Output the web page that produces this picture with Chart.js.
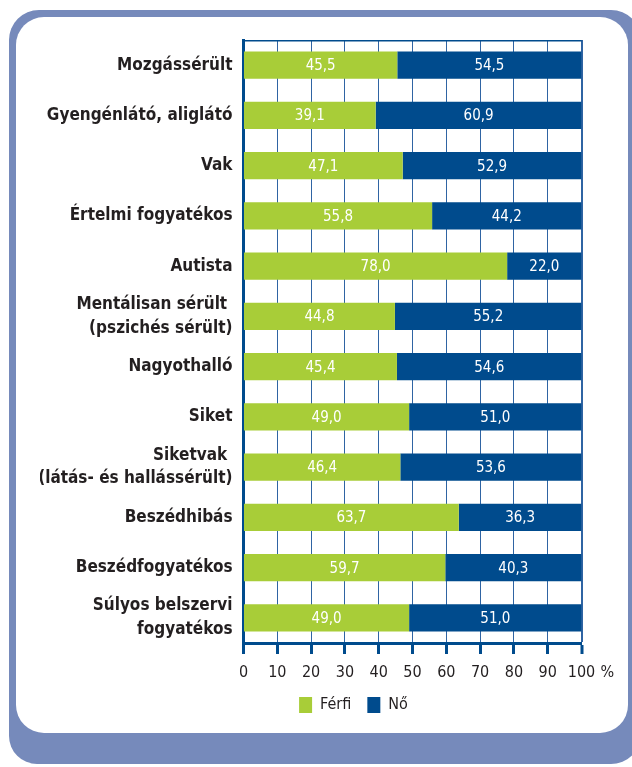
<!DOCTYPE html>
<html lang="hu">
<head>
<meta charset="utf-8">
<title>Férfi / Nő megoszlás fogyatékosság szerint</title>
<script src="https://cdn.jsdelivr.net/npm/chart.js@4/dist/chart.umd.min.js"></script>
<style>
  html, body { margin: 0; padding: 0; background: #fff; }
  .page { position: relative; width: 632px; height: 767px; overflow: hidden; }
  .frame { position: absolute; left: 9px; top: 10px; width: 632px; height: 754px;
           background: #768abb; border-radius: 30px 30px 30px 28px; }
  .panel { position: absolute; left: 16px; top: 17px; width: 612px; height: 716px;
           background: #fff; border-radius: 28px; }
  .chart-box { position: absolute; left: 40px; top: 20px; width: 627px; height: 703px; }
</style>
</head>
<body>
<div class="page">
  <div class="frame"></div>
  <div class="panel"></div>
  <div class="chart-box"><canvas id="chart"></canvas></div>
</div>
<script>
var categories = [
  "Mozgássérült",
  "Gyengénlátó, aliglátó",
  "Vak",
  "Értelmi fogyatékos",
  "Autista",
  ["Mentálisan sérült ", "(pszichés sérült)"],
  "Nagyothalló",
  "Siket",
  ["Siketvak ", "(látás- és hallássérült)"],
  "Beszédhibás",
  "Beszédfogyatékos",
  ["Súlyos belszervi", "fogyatékos"]
];
var ferfi = [45.5, 39.1, 47.1, 55.8, 78.0, 44.8, 45.4, 49.0, 46.4, 63.7, 59.7, 49.0];
var no = [54.5, 60.9, 52.9, 44.2, 22.0, 55.2, 54.6, 51.0, 53.6, 36.3, 40.3, 51.0];
var xTicks = [0, 10, 20, 30, 40, 50, 60, 70, 80, 90, 100];

(function () {
  "use strict";

  var GREEN = "#a8cd38";
  var BLUE = "#004b8d";
  var GRID = "#2f64a3";
  var TEXT = "#231f20";
  var COND = "'DejaVu Sans Condensed', 'DejaVu Sans', sans-serif";

  function fmt(v) {
    return v.toFixed(1).replace(".", ",");
  }

  // white numbers centred in each bar segment
  var valueLabels = {
    id: "valueLabels",
    afterDatasetsDraw: function (chart) {
      var ctx = chart.ctx;
      ctx.save();
      ctx.fillStyle = "#fff";
      ctx.font = "15px " + COND;
      ctx.textAlign = "center";
      ctx.textBaseline = "middle";
      chart.data.datasets.forEach(function (ds, i) {
        chart.getDatasetMeta(i).data.forEach(function (bar, j) {
          var mid = (bar.x + bar.base) / 2;
          ctx.fillText(fmt(ds.data[j]), mid, bar.y + 1);
        });
      });
      ctx.restore();
    }
  };

  // thin frame line on top and the "%" after the last tick
  var plotFrame = {
    id: "plotFrame",
    afterDraw: function (chart) {
      var ctx = chart.ctx;
      var a = chart.chartArea;
      var x = chart.scales.x;
      ctx.save();
      ctx.strokeStyle = BLUE;
      ctx.lineWidth = 1.5;
      ctx.beginPath();
      ctx.moveTo(a.left, a.top + 0.75);
      ctx.lineTo(a.right, a.top + 0.75);
      ctx.stroke();
      ctx.fillStyle = TEXT;
      ctx.font = "16px " + COND;
      ctx.textAlign = "left";
      ctx.textBaseline = "middle";
      ctx.fillText("%", x.getPixelForValue(100) + 19, a.bottom + 30);
      ctx.restore();
    }
  };

  new Chart(document.getElementById("chart"), {
    type: "bar",
    data: {
      labels: categories,
      datasets: [
        { label: "Férfi", data: ferfi, backgroundColor: GREEN, borderWidth: 0 },
        { label: "Nő", data: no, backgroundColor: BLUE, borderWidth: 0 }
      ]
    },
    plugins: [valueLabels, plotFrame],
    options: {
      indexAxis: "y",
      responsive: true,
      maintainAspectRatio: false,
      animation: false,
      categoryPercentage: 1,
      barPercentage: 0.54,
      layout: { padding: { top: 20, right: 0, left: 0, bottom: 0 } },
      plugins: {
        tooltip: { enabled: false },
        legend: {
          position: "bottom",
          labels: {
            boxWidth: 13,
            boxHeight: 16,
            padding: 16,
            color: TEXT,
            font: { family: COND, size: 16 }
          }
        }
      },
      scales: {
        x: {
          stacked: true,
          min: 0,
          max: 100,
          afterBuildTicks: function (scale) {
            scale.ticks = xTicks.map(function (v) { return { value: v }; });
          },
          afterFit: function (scale) { scale.height = 38; },
          grid: {
            color: GRID,
            lineWidth: function (c) { return c.tick && c.tick.value === 100 ? 2 : 1; },
            tickLength: 11,
            tickWidth: 3,
            tickColor: BLUE
          },
          border: { display: true, color: BLUE, width: 3 },
          ticks: {
            color: TEXT,
            padding: 9.5,
            maxRotation: 0,
            font: { family: COND, size: 16 }
          }
        },
        y: {
          stacked: true,
          afterFit: function (scale) {
            scale.width = 203.5;
            scale.paddingTop = 0;
            scale.paddingBottom = 0;
          },
          grid: { display: false, drawTicks: false },
          border: { display: true, color: BLUE, width: 3 },
          ticks: {
            color: TEXT,
            padding: 11,
            autoSkip: false,
            font: { family: COND, size: 17, weight: "bold", lineHeight: 1.4 }
          }
        },
        // empty right-hand gutter so the legend centres where the original one sits
        gutter: {
          type: "category",
          position: "right",
          afterFit: function (scale) {
            scale.width = 85.5;
            scale.paddingTop = 0;
            scale.paddingBottom = 0;
          },
          grid: { display: false, drawTicks: false },
          border: { display: false },
          ticks: { display: false }
        }
      }
    }
  });
})();
</script>
</body>
</html>
